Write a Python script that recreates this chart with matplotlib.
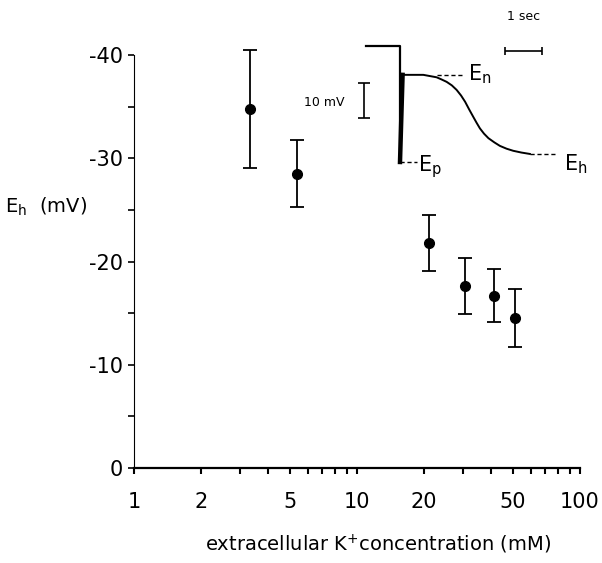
import matplotlib
matplotlib.use('Agg')
import matplotlib.pyplot as plt
from matplotlib.ticker import FixedLocator, NullLocator

# measured points (extracellular K+ in mM, Eh in mV)
conc = [3.3, 5.4, 21, 30.5, 41, 51]
eh = [-34.8, -28.5, -21.8, -17.6, -16.7, -14.5]
eh_err = [5.7, 3.25, 2.75, 2.7, 2.6, 2.8]

x_ticks = list(range(1, 10)) + list(range(10, 101, 10))
x_labeled = [1, 2, 5, 10, 20, 50, 100]
y_ticks = [0, -10, -20, -30, -40]
y_labels = ['0', '-10', '-20', '-30', '-40']
y_minor = [-5, -15, -25, -35]

# inset recording: time (s) and voltage (mV, relative to Ep)
step_t = [-0.92, 0, 0]
step_v = [33.1, 33.1, 0]
jump_t = [0, 0.07]
jump_v = [0, 24.9]
curve_t = [0.07, 0.35, 0.63, 0.99, 1.12, 1.26, 1.40, 1.53, 1.65, 1.76, 1.87,
           1.98, 2.07, 2.16, 2.27, 2.39, 2.55, 2.70, 2.88, 3.06, 3.28, 3.51]
curve_v = [24.9, 24.9, 24.9, 24.2, 23.6, 22.9, 21.9, 20.6, 19.0, 17.2, 15.0,
           12.9, 11.2, 9.6, 8.1, 6.8, 5.6, 4.6, 3.8, 3.2, 2.7, 2.3]

fig = plt.figure(figsize=(6.02, 5.63), dpi=100)
ax = fig.add_axes([134 / 602, 1 - 468 / 563, 446 / 602, 413 / 563])

ax.errorbar(conc, eh, yerr=eh_err, fmt='o', color='black', ms=7,
            capsize=5, elinewidth=1.3, capthick=1.3, clip_on=False)

ax.set_xscale('log')
ax.set_xlim(1, 100)
ax.set_ylim(0, -40)

for s in ['top', 'right']:
    ax.spines[s].set_visible(False)
ax.spines['bottom'].set_linewidth(1.6)
ax.spines['left'].set_linewidth(0.8)

ax.xaxis.set_major_locator(FixedLocator(x_ticks))
ax.set_xticklabels([str(t) if t in x_labeled else '' for t in x_ticks])
ax.xaxis.set_minor_locator(NullLocator())
ax.tick_params(axis='x', direction='out', length=4, width=1.5, pad=13, labelsize=15)

ax.set_yticks(y_ticks)
ax.set_yticklabels(y_labels)
ax.set_yticks(y_minor, minor=True)
ax.tick_params(axis='y', which='both', direction='out', length=4, width=1.2, pad=4, labelsize=15)

ax.text((378 - 134) / 446, -0.186, 'extracellular K$^{\\mathregular{+}}$concentration (mM)',
        transform=ax.transAxes, ha='center', va='center', fontsize=14)
fig.text(5 / 602, 1 - 207 / 563, 'E$_\\mathregular{h}$  (mV)', ha='left', va='center', fontsize=14)

# inset trace
iax = fig.add_axes([280 / 602, 1 - 200 / 563, 320 / 602, 190 / 563])
iax.set_xlim(-3.243, 5.405)
iax.set_ylim(-10.86, 43.43)
iax.axis('off')

iax.plot(step_t, step_v, color='black', lw=1.6)
iax.plot(jump_t, jump_v, color='black', lw=3.2)
iax.plot(curve_t, curve_v, color='black', lw=1.4, solid_joinstyle='round')

iax.plot([0.99, 1.7], [curve_v[0], curve_v[0]], color='black', lw=1, ls=(0, (3, 2)))
iax.plot([curve_t[-1], 4.2], [curve_v[-1], curve_v[-1]], color='black', lw=1, ls=(0, (3, 2)))
iax.plot([0, 0.45], [0, 0], color='black', lw=1, ls=(0, (3, 2)))

iax.text(1.83, 23.4, 'E$_\\mathregular{n}$', fontsize=15, ha='left', va='baseline')
iax.text(4.42, -2.3, 'E$_\\mathregular{h}$', fontsize=15, ha='left', va='baseline')
iax.text(0.49, -2.8, 'E$_\\mathregular{p}$', fontsize=15, ha='left', va='baseline')

# scale bars
iax.errorbar([3.34], [31.8], xerr=[0.5], color='black', lw=1.2, capsize=3, capthick=1.2)
iax.text(3.34, 41.5, '1 sec', fontsize=9, ha='center', va='center')
iax.errorbar([-0.97], [17.6], yerr=[5], color='black', lw=1.2, capsize=4, capthick=1.2)
iax.text(-1.5, 16.9, '10 mV', fontsize=9, ha='right', va='center')

fig.savefig('out.png', dpi=100)
